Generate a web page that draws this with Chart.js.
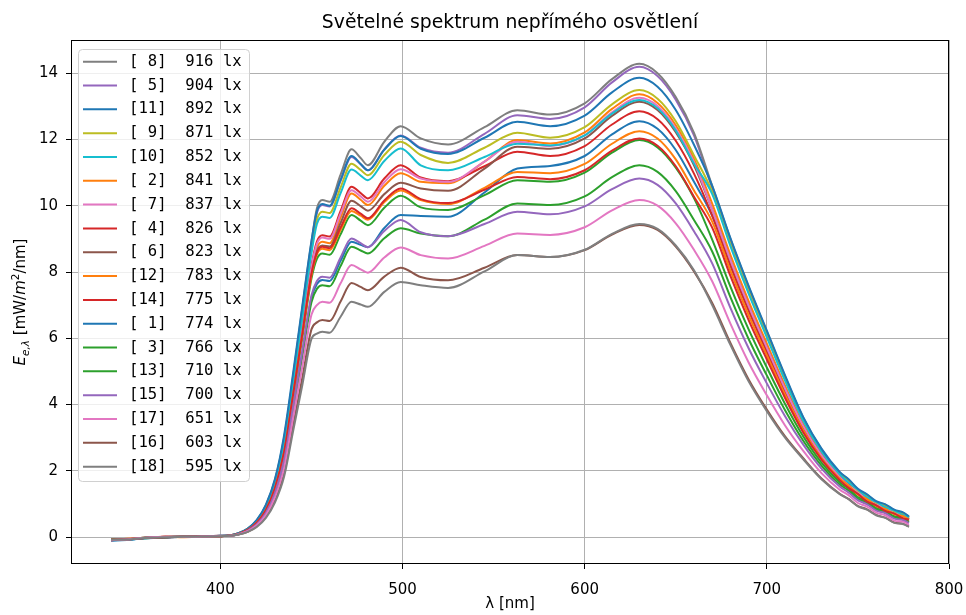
<!DOCTYPE html>
<html>
<head>
<meta charset="utf-8">
<title>Světelné spektrum nepřímého osvětlení</title>
<script src="https://cdn.jsdelivr.net/npm/chart.js@4.4.0/dist/chart.umd.min.js"></script>
<style>
  html, body { margin: 0; padding: 0; background: #ffffff; }
  #wrap { width: 966px; height: 615px; }
</style>
</head>
<body>
<div id="wrap"><canvas id="c" width="966" height="615"></canvas></div>
<script>
// Wavelength grid [nm]
const wavelengths = [
  340, 350, 360, 370, 380, 390, 400,
  405, 410, 415, 420, 425, 430, 435, 440, 445, 450, 453, 456, 460,
  466, 472, 477, 481, 490, 499, 510, 525,
  545, 563, 581, 600, 615, 630, 640, 650, 660,
  670, 680, 690, 700, 710, 720, 730, 740,
  745, 750, 755, 760, 765, 770, 775, 778
];

// Measurement numbers and their illuminance [lx]
const sampleIds   = [1, 2, 3, 4, 5, 6, 7, 8, 9, 10, 11, 12, 13, 14, 15, 16, 17, 18];
const illuminance = [774, 841, 766, 826, 904, 823, 837, 916, 871, 852, 892, 783, 710, 775, 700, 603, 651, 595];

// Spectral irradiance of each measurement [mW/m²/nm]
const s1 = [-0.10, -0.08, -0.02, 0.00, 0.01, 0.02, 0.03,
  0.05, 0.10, 0.19, 0.39, 0.73, 1.32, 2.29, 3.91, 5.56, 7.22, 7.64, 7.76, 7.73,
  8.34, 8.91, 8.82, 8.75, 9.33, 9.72, 9.69, 9.67,
  10.40, 11.12, 11.20, 11.50, 12.15, 12.55, 12.32, 11.68, 10.72,
  9.70, 8.20, 6.84, 5.60, 4.39, 3.29, 2.43, 1.79,
  1.59, 1.31, 1.17, 0.96, 0.88, 0.71, 0.66, 0.53];
const s2 = [-0.07, -0.05, -0.01, 0.01, 0.00, 0.02, 0.04,
  0.05, 0.11, 0.22, 0.45, 0.84, 1.51, 2.63, 4.39, 6.23, 8.05, 8.73, 8.91, 8.87,
  9.64, 10.37, 10.18, 10.02, 10.60, 10.98, 10.72, 10.68,
  11.33, 11.98, 11.88, 12.21, 12.92, 13.36, 13.10, 12.43, 11.41,
  10.06, 8.52, 7.12, 5.84, 4.57, 3.41, 2.52, 1.85,
  1.63, 1.36, 1.21, 1.00, 0.91, 0.74, 0.68, 0.56];
const s3 = [-0.08, -0.06, -0.03, 0.00, 0.02, 0.01, 0.03,
  0.04, 0.10, 0.21, 0.43, 0.80, 1.46, 2.53, 4.25, 6.03, 7.80, 8.40, 8.56, 8.52,
  9.14, 9.72, 9.55, 9.41, 9.94, 10.30, 9.95, 9.87,
  10.32, 10.77, 10.72, 11.00, 11.60, 11.98, 11.76, 11.15, 10.23,
  8.98, 7.56, 6.27, 5.12, 4.02, 3.04, 2.25, 1.66,
  1.46, 1.21, 1.08, 0.88, 0.79, 0.63, 0.57, 0.47];
const s4 = [-0.09, -0.06, -0.02, 0.01, 0.01, 0.03, 0.03,
  0.05, 0.11, 0.23, 0.46, 0.86, 1.55, 2.69, 4.47, 6.34, 8.19, 8.92, 9.11, 9.07,
  9.84, 10.57, 10.38, 10.22, 10.82, 11.22, 10.85, 10.74,
  11.19, 11.63, 11.50, 11.80, 12.45, 12.85, 12.61, 11.96, 10.97,
  9.70, 8.20, 6.84, 5.60, 4.39, 3.29, 2.43, 1.79,
  1.54, 1.35, 1.12, 1.00, 0.83, 0.75, 0.60, 0.56];
const s5 = [-0.08, -0.07, -0.02, 0.00, 0.02, 0.02, 0.04,
  0.05, 0.12, 0.25, 0.50, 0.94, 1.70, 2.96, 4.83, 6.83, 8.81, 9.78, 10.02, 9.98,
  10.75, 11.47, 11.25, 11.07, 11.70, 12.12, 11.75, 11.60,
  12.17, 12.73, 12.62, 12.97, 13.72, 14.19, 13.91, 13.20, 12.12,
  10.53, 8.94, 7.49, 6.15, 4.81, 3.58, 2.63, 1.94,
  1.72, 1.42, 1.27, 1.05, 0.97, 0.79, 0.72, 0.60];
const s6 = [-0.07, -0.06, -0.01, 0.00, 0.01, 0.02, 0.03,
  0.04, 0.10, 0.22, 0.44, 0.83, 1.50, 2.60, 4.35, 6.17, 7.97, 8.63, 8.80, 8.77,
  9.48, 10.15, 9.99, 9.85, 10.35, 10.69, 10.52, 10.45,
  11.12, 11.78, 11.72, 12.03, 12.71, 13.14, 12.89, 12.22, 11.22,
  9.88, 8.36, 6.98, 5.72, 4.48, 3.35, 2.47, 1.82,
  1.60, 1.33, 1.19, 0.98, 0.89, 0.73, 0.65, 0.55];
const s7 = [-0.09, -0.05, -0.02, 0.01, 0.02, 0.02, 0.03,
  0.05, 0.11, 0.23, 0.45, 0.85, 1.54, 2.67, 4.44, 6.30, 8.14, 8.85, 9.04, 9.00,
  9.76, 10.47, 10.28, 10.12, 10.71, 11.10, 10.82, 10.72,
  11.33, 11.93, 11.80, 12.12, 12.82, 13.26, 13.01, 12.33, 11.32,
  9.88, 8.36, 6.98, 5.72, 4.48, 3.35, 2.47, 1.82,
  1.56, 1.37, 1.14, 1.02, 0.85, 0.77, 0.61, 0.57];
const s8 = [-0.08, -0.06, -0.02, 0.00, 0.01, 0.03, 0.04,
  0.05, 0.12, 0.25, 0.51, 0.96, 1.73, 3.00, 4.88, 6.92, 8.90, 9.92, 10.17, 10.12,
  10.94, 11.70, 11.44, 11.22, 11.93, 12.40, 12.03, 11.85,
  12.37, 12.88, 12.75, 13.09, 13.82, 14.28, 14.00, 13.28, 12.20,
  10.60, 9.00, 7.55, 6.20, 4.85, 3.60, 2.65, 1.95,
  1.73, 1.43, 1.28, 1.06, 0.98, 0.80, 0.73, 0.61];
const s9 = [-0.08, -0.06, -0.02, 0.01, 0.01, 0.02, 0.03,
  0.05, 0.11, 0.25, 0.49, 0.92, 1.67, 2.90, 4.75, 6.73, 8.67, 9.58, 9.82, 9.78,
  10.55, 11.27, 11.08, 10.92, 11.53, 11.93, 11.53, 11.29,
  11.75, 12.20, 12.05, 12.37, 13.06, 13.49, 13.23, 12.55, 11.52,
  10.42, 8.84, 7.41, 6.08, 4.76, 3.54, 2.61, 1.92,
  1.69, 1.41, 1.26, 1.04, 0.96, 0.78, 0.71, 0.59];
const s10 = [-0.09, -0.07, -0.02, 0.00, 0.02, 0.02, 0.04,
  0.05, 0.11, 0.24, 0.48, 0.91, 1.64, 2.85, 4.69, 6.65, 8.57, 9.45, 9.67, 9.63,
  10.38, 11.09, 10.91, 10.77, 11.35, 11.73, 11.22, 11.07,
  11.47, 11.87, 11.82, 12.12, 12.78, 13.19, 12.94, 12.27, 11.27,
  10.35, 8.78, 7.35, 6.03, 4.72, 3.51, 2.59, 1.90,
  1.64, 1.44, 1.20, 1.07, 0.90, 0.81, 0.66, 0.61];
const s11 = [-0.10, -0.07, -0.03, 0.00, 0.01, 0.02, 0.03,
  0.05, 0.12, 0.26, 0.52, 0.98, 1.76, 3.08, 4.98, 6.98, 8.93, 9.83, 10.05, 10.00,
  10.78, 11.50, 11.26, 11.07, 11.69, 12.10, 11.72, 11.56,
  12.05, 12.53, 12.40, 12.72, 13.42, 13.86, 13.59, 12.89, 11.84,
  10.60, 9.02, 7.58, 6.23, 4.88, 3.62, 2.67, 1.97,
  1.74, 1.46, 1.29, 1.09, 0.99, 0.83, 0.74, 0.63];
const s12 = [-0.07, -0.05, -0.02, 0.01, 0.01, 0.02, 0.03,
  0.04, 0.10, 0.22, 0.44, 0.82, 1.48, 2.57, 4.30, 6.11, 7.90, 8.53, 8.70, 8.66,
  9.27, 9.84, 9.70, 9.58, 10.11, 10.46, 10.17, 10.05,
  10.54, 11.02, 10.98, 11.26, 11.87, 12.25, 12.03, 11.40, 10.46,
  9.52, 8.04, 6.70, 5.48, 4.30, 3.23, 2.38, 1.76,
  1.55, 1.28, 1.15, 0.94, 0.85, 0.69, 0.63, 0.52];
const s13 = [-0.08, -0.06, -0.01, 0.00, 0.02, 0.02, 0.03,
  0.04, 0.09, 0.19, 0.38, 0.71, 1.29, 2.24, 3.85, 5.46, 7.09, 7.49, 7.60, 7.57,
  8.18, 8.76, 8.65, 8.56, 9.02, 9.32, 9.16, 9.08,
  9.58, 10.07, 10.02, 10.28, 10.86, 11.22, 11.02, 10.44, 9.57,
  8.62, 7.24, 5.98, 4.88, 3.83, 2.91, 2.16, 1.59,
  1.40, 1.16, 1.03, 0.84, 0.76, 0.60, 0.54, 0.45];
const s14 = [-0.09, -0.06, -0.02, 0.00, 0.01, 0.03, 0.03,
  0.05, 0.10, 0.22, 0.44, 0.82, 1.49, 2.58, 4.33, 6.14, 7.95, 8.58, 8.76, 8.72,
  9.34, 9.92, 9.76, 9.62, 10.16, 10.52, 10.20, 10.08,
  10.48, 10.87, 10.80, 11.07, 11.66, 12.03, 11.81, 11.19, 10.27,
  9.34, 7.88, 6.55, 5.36, 4.20, 3.16, 2.34, 1.72,
  1.48, 1.30, 1.07, 0.96, 0.79, 0.71, 0.56, 0.53];
const s15 = [-0.08, -0.07, -0.02, 0.01, 0.01, 0.02, 0.04,
  0.04, 0.09, 0.20, 0.39, 0.74, 1.34, 2.32, 3.95, 5.62, 7.29, 7.73, 7.86, 7.83,
  8.44, 9.01, 8.87, 8.75, 9.24, 9.57, 9.20, 9.08,
  9.45, 9.82, 9.74, 9.98, 10.50, 10.82, 10.63, 10.07, 9.23,
  8.26, 6.92, 5.70, 4.64, 3.65, 2.79, 2.07, 1.53,
  1.34, 1.11, 0.99, 0.80, 0.72, 0.56, 0.51, 0.42];
const s16 = [-0.07, -0.06, -0.02, 0.00, 0.02, 0.01, 0.03,
  0.04, 0.08, 0.16, 0.33, 0.62, 1.11, 1.93, 3.38, 4.81, 6.27, 6.48, 6.55, 6.52,
  7.11, 7.67, 7.55, 7.45, 7.86, 8.13, 7.85, 7.75,
  8.13, 8.51, 8.45, 8.66, 9.13, 9.42, 9.27, 8.77, 8.02,
  7.07, 5.86, 4.76, 3.85, 3.04, 2.38, 1.77, 1.31,
  1.15, 0.94, 0.84, 0.67, 0.59, 0.44, 0.40, 0.32];
const s17 = [-0.09, -0.06, -0.01, 0.01, 0.01, 0.02, 0.03,
  0.04, 0.09, 0.18, 0.36, 0.67, 1.21, 2.09, 3.63, 5.15, 6.71, 7.00, 7.10, 7.07,
  7.66, 8.21, 8.08, 7.98, 8.44, 8.74, 8.51, 8.41,
  8.79, 9.16, 9.12, 9.35, 9.86, 10.17, 10.00, 9.47, 8.67,
  7.72, 6.44, 5.27, 4.28, 3.37, 2.60, 1.93, 1.43,
  1.26, 1.03, 0.92, 0.74, 0.66, 0.50, 0.46, 0.37];
const s18 = [-0.08, -0.07, -0.02, 0.00, 0.01, 0.02, 0.03,
  0.04, 0.08, 0.16, 0.31, 0.58, 1.05, 1.83, 3.22, 4.59, 5.98, 6.14, 6.20, 6.17,
  6.65, 7.10, 7.02, 6.95, 7.40, 7.70, 7.60, 7.52,
  8.02, 8.51, 8.45, 8.67, 9.15, 9.45, 9.30, 8.80, 8.05,
  7.00, 5.80, 4.70, 3.80, 3.00, 2.35, 1.75, 1.30,
  1.14, 0.93, 0.83, 0.66, 0.58, 0.43, 0.39, 0.31];

const spectra = [s1, s2, s3, s4, s5, s6, s7, s8, s9, s10, s11, s12, s13, s14, s15, s16, s17, s18];

// Axis ticks
const xTicks = [400, 500, 600, 700, 800];
const yTicks = [0, 2, 4, 6, 8, 10, 12, 14];

// Text
const chartTitle = 'Světelné spektrum nepřímého osvětlení';
const xTitle = 'λ [nm]';

// tab10 colour cycle, assigned in measurement order
const palette = ['#1f77b4', '#ff7f0e', '#2ca02c', '#d62728', '#9467bd',
                 '#8c564b', '#e377c2', '#7f7f7f', '#bcbd22', '#17becf'];
const colorOf = i => palette[i % palette.length];

function legendText(i) {
  const id = String(sampleIds[i]).padStart(2, ' ');
  return '[' + id + ']  ' + illuminance[i] + ' lx';
}

// Later measurements are drawn on top: the first dataset is painted last.
const datasets = [];
for (let i = spectra.length - 1; i >= 0; i--) {
  datasets.push({
    label: legendText(i),
    data: wavelengths.map((x, k) => ({ x: x, y: spectra[i][k] })),
    borderColor: colorOf(i),
    backgroundColor: colorOf(i),
    borderWidth: 2,
    pointRadius: 0,
    fill: false,
    cubicInterpolationMode: 'monotone'
  });
}

const FONT = "'DejaVu Sans', 'Liberation Sans', sans-serif";
const MONO = "'DejaVu Sans Mono', 'Liberation Mono', monospace";

const decor = {
  id: 'decor',
  beforeDraw(chart) {
    const ctx = chart.ctx;
    ctx.save();
    ctx.fillStyle = '#ffffff';
    ctx.fillRect(0, 0, chart.width, chart.height);
    ctx.restore();
  },
  afterDatasetsDraw(chart) {
    const { ctx, chartArea: a } = chart;
    ctx.save();
    ctx.strokeStyle = '#000000';
    ctx.lineWidth = 1;
    ctx.strokeRect(Math.round(a.left) + 0.5, Math.round(a.top) + 0.5,
                   Math.round(a.right - a.left) - 1, Math.round(a.bottom - a.top) - 1);
    ctx.restore();
  },
  afterDraw(chart) {
    const { ctx, chartArea: a } = chart;
    const cx = (a.left + a.right) / 2;
    ctx.save();
    ctx.fillStyle = '#000000';

    // title
    ctx.font = '18.8px ' + FONT;
    ctx.textAlign = 'center';
    ctx.textBaseline = 'middle';
    ctx.fillText(chartTitle, cx, 23);

    // x axis title
    ctx.font = '15px ' + FONT;
    ctx.fillText(xTitle, cx, 604);

    // y axis title with sub- and superscripts
    const cy = (a.top + a.bottom) / 2;
    const parts = [
      { t: 'E', size: 15, italic: true, dy: 0 },
      { t: 'e,λ', size: 10.5, italic: true, dy: 3.5 },
      { t: ' [mW/', size: 15, italic: false, dy: 0 },
      { t: 'm', size: 15, italic: true, dy: 0 },
      { t: '2', size: 10.5, italic: false, dy: -6 },
      { t: '/nm]', size: 15, italic: false, dy: 0 }
    ];
    const fontFor = p => (p.italic ? 'italic ' : '') + p.size + 'px ' + FONT;
    let total = 0;
    parts.forEach(p => { ctx.font = fontFor(p); p.w = ctx.measureText(p.t).width; total += p.w; });
    ctx.translate(25, cy);
    ctx.rotate(-Math.PI / 2);
    ctx.textAlign = 'left';
    ctx.textBaseline = 'alphabetic';
    let x = -total / 2;
    parts.forEach(p => { ctx.font = fontFor(p); ctx.fillText(p.t, x, p.dy); x += p.w; });
    ctx.setTransform(1, 0, 0, 1, 0, 0);

    // legend, ordered by illuminance
    const order = sampleIds.map((_, i) => i).sort((p, q) => illuminance[q] - illuminance[p]);
    const bx = 78.5, by = 49.5, bw = 171, bh = 432, r = 4;
    ctx.beginPath();
    ctx.moveTo(bx + r, by);
    ctx.lineTo(bx + bw - r, by);
    ctx.arcTo(bx + bw, by, bx + bw, by + r, r);
    ctx.lineTo(bx + bw, by + bh - r);
    ctx.arcTo(bx + bw, by + bh, bx + bw - r, by + bh, r);
    ctx.lineTo(bx + r, by + bh);
    ctx.arcTo(bx, by + bh, bx, by + bh - r, r);
    ctx.lineTo(bx, by + r);
    ctx.arcTo(bx, by, bx + r, by, r);
    ctx.closePath();
    ctx.fillStyle = 'rgba(255,255,255,0.8)';
    ctx.fill();
    ctx.strokeStyle = '#d0d0d0';
    ctx.lineWidth = 1;
    ctx.stroke();

    ctx.font = '15.6px ' + MONO;
    ctx.textAlign = 'left';
    ctx.textBaseline = 'middle';
    order.forEach((i, row) => {
      const y = 61.7 + row * 23.82;
      ctx.strokeStyle = colorOf(i);
      ctx.lineWidth = 2;
      ctx.beginPath();
      ctx.moveTo(83, y);
      ctx.lineTo(117, y);
      ctx.stroke();
      ctx.fillStyle = '#000000';
      ctx.fillText(legendText(i), 129, y);
    });
    ctx.restore();
  }
};

new Chart(document.getElementById('c'), {
  type: 'line',
  data: { datasets: datasets },
  options: {
    responsive: false,
    animation: false,
    devicePixelRatio: 1,
    layout: { padding: { top: 40, right: 17, bottom: 0, left: 0 } },
    plugins: { legend: { display: false }, tooltip: { enabled: false }, title: { display: false } },
    elements: { point: { radius: 0 }, line: { borderWidth: 2 } },
    scales: {
      x: {
        type: 'linear',
        min: 318,
        max: 800,
        afterBuildTicks: s => { s.ticks = xTicks.map(v => ({ value: v })); },
        afterFit: s => { s.height = 51; s.paddingLeft = 0; s.paddingRight = 0; },
        border: { display: false },
        grid: { color: '#b0b0b0', lineWidth: 1, drawTicks: true, tickLength: 5, tickColor: '#000000', tickWidth: 1 },
        ticks: { color: '#000000', font: { family: FONT, size: 15 }, padding: 12, maxRotation: 0, autoSkip: false,
                 callback: v => String(v) }
      },
      y: {
        type: 'linear',
        min: -0.81,
        max: 15.0,
        afterBuildTicks: s => { s.ticks = yTicks.map(v => ({ value: v })); },
        afterFit: s => { s.width = 71; s.paddingTop = 0; s.paddingBottom = 0; },
        border: { display: false },
        grid: { color: '#b0b0b0', lineWidth: 1, drawTicks: true, tickLength: 5, tickColor: '#000000', tickWidth: 1 },
        ticks: { color: '#000000', font: { family: FONT, size: 15 }, padding: 8, autoSkip: false,
                 callback: v => String(v) }
      }
    }
  },
  plugins: [decor]
});
</script>
</body>
</html>
